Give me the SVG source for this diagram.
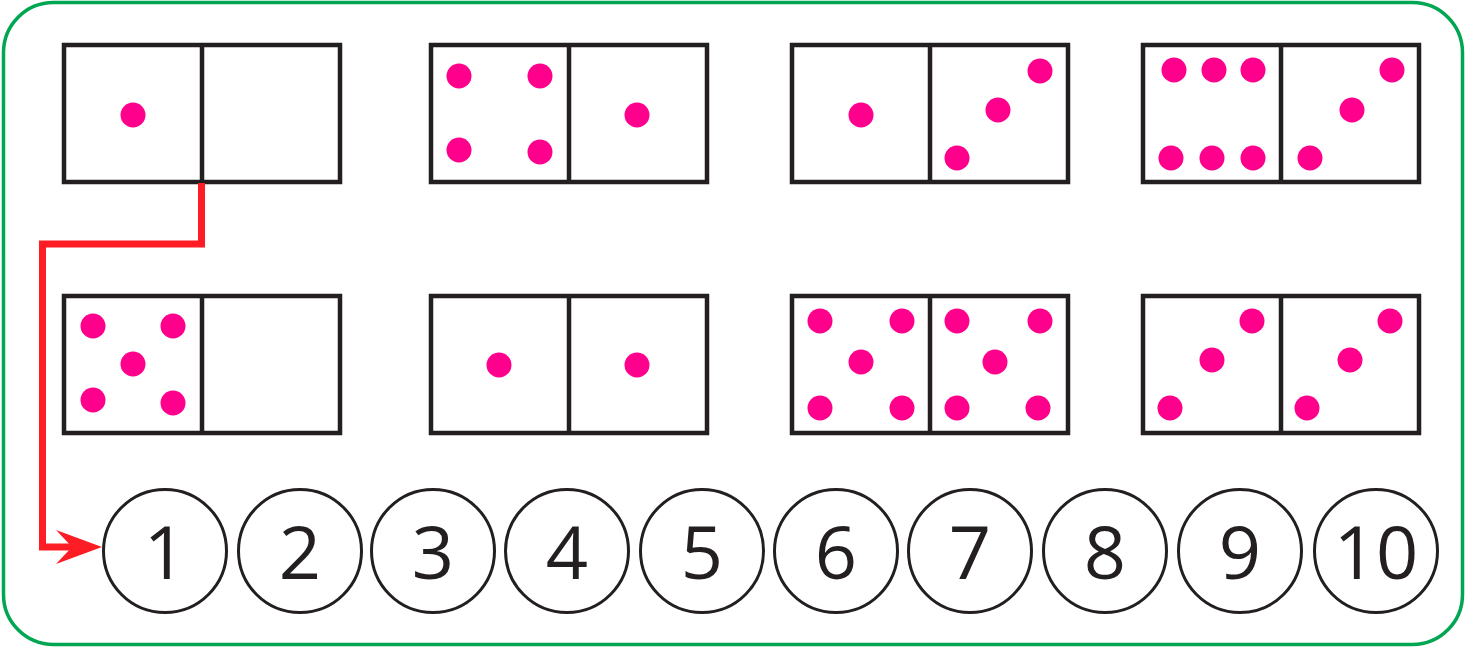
<svg xmlns="http://www.w3.org/2000/svg" width="1467" height="649" viewBox="0 0 1467 649">
<style>
.frame{fill:#fff;stroke:#00a651;stroke-width:3.5}
.dom{fill:none;stroke:#231f20;stroke-width:4.5}
.dot{fill:#ff008c}
.num circle{fill:#fff;stroke:#231f20;stroke-width:3}
.num text{font-family:"Open Sans","Noto Sans","Liberation Sans",sans-serif;font-size:74px;fill:#231f20;text-anchor:middle}
.conn{fill:none;stroke:#ff1d25;stroke-width:7;stroke-linejoin:miter}
</style>
<defs>
<g id="tile"><rect class="dom" x="0" y="0" width="276" height="137"/><line class="dom" x1="138" y1="0" x2="138" y2="137"/></g>
</defs>
<rect class="frame" x="3.5" y="2.5" width="1459" height="642" rx="50" ry="50"/>

<g id="domino-1-1"><use href="#tile" x="64" y="45"/><circle class="dot" cx="133" cy="115" r="12.5"/></g>
<g id="domino-1-2"><use href="#tile" x="431" y="45"/>
<circle class="dot" cx="459" cy="76" r="12.5"/><circle class="dot" cx="540" cy="76" r="12.5"/><circle class="dot" cx="459" cy="150" r="12.5"/><circle class="dot" cx="540" cy="152" r="12.5"/>
<circle class="dot" cx="637" cy="115" r="12.5"/></g>
<g id="domino-1-3"><use href="#tile" x="792" y="45"/>
<circle class="dot" cx="861" cy="115" r="12.5"/>
<circle class="dot" cx="1040" cy="71" r="12.5"/><circle class="dot" cx="998" cy="110" r="12.5"/><circle class="dot" cx="957" cy="158" r="12.5"/></g>
<g id="domino-1-4"><use href="#tile" x="1143" y="45"/>
<circle class="dot" cx="1174" cy="70" r="12.5"/><circle class="dot" cx="1214" cy="70" r="12.5"/><circle class="dot" cx="1253" cy="70" r="12.5"/>
<circle class="dot" cx="1171" cy="158" r="12.5"/><circle class="dot" cx="1212" cy="158" r="12.5"/><circle class="dot" cx="1253" cy="158" r="12.5"/>
<circle class="dot" cx="1392" cy="70" r="12.5"/><circle class="dot" cx="1352" cy="110" r="12.5"/><circle class="dot" cx="1310" cy="158" r="12.5"/></g>

<g id="domino-2-1"><use href="#tile" x="64" y="296"/>
<circle class="dot" cx="93" cy="326" r="12.5"/><circle class="dot" cx="173" cy="326" r="12.5"/><circle class="dot" cx="133" cy="364" r="12.5"/><circle class="dot" cx="93" cy="400" r="12.5"/><circle class="dot" cx="173" cy="403" r="12.5"/></g>
<g id="domino-2-2"><use href="#tile" x="431" y="296"/>
<circle class="dot" cx="499" cy="365" r="12.5"/><circle class="dot" cx="637" cy="365" r="12.5"/></g>
<g id="domino-2-3"><use href="#tile" x="792" y="296"/>
<circle class="dot" cx="820" cy="321" r="12.5"/><circle class="dot" cx="902" cy="321" r="12.5"/><circle class="dot" cx="861" cy="362" r="12.5"/><circle class="dot" cx="820" cy="408" r="12.5"/><circle class="dot" cx="902" cy="408" r="12.5"/>
<circle class="dot" cx="957" cy="321" r="12.5"/><circle class="dot" cx="1040" cy="321" r="12.5"/><circle class="dot" cx="995" cy="362" r="12.5"/><circle class="dot" cx="957" cy="408" r="12.5"/><circle class="dot" cx="1038" cy="408" r="12.5"/></g>
<g id="domino-2-4"><use href="#tile" x="1143" y="296"/>
<circle class="dot" cx="1252" cy="321" r="12.5"/><circle class="dot" cx="1212" cy="360" r="12.5"/><circle class="dot" cx="1170" cy="408" r="12.5"/>
<circle class="dot" cx="1390" cy="321" r="12.5"/><circle class="dot" cx="1350" cy="360" r="12.5"/><circle class="dot" cx="1307" cy="408" r="12.5"/></g>

<g id="connectors">
<path class="conn" d="M201.5,183 V244 H42.5 V547 H80"/>
<polygon points="56,530 102,547 56,564 72,547" fill="#ff1d25"/>
</g>

<g id="n1" class="num"><circle cx="165" cy="551" r="61.5"/><text x="165" y="579">1</text></g>
<g id="n2" class="num"><circle cx="300" cy="551" r="61.5"/><text x="300" y="579">2</text></g>
<g id="n3" class="num"><circle cx="433" cy="551" r="61.5"/><text x="433" y="579">3</text></g>
<g id="n4" class="num"><circle cx="567" cy="551" r="61.5"/><text x="567" y="579">4</text></g>
<g id="n5" class="num"><circle cx="702" cy="551" r="61.5"/><text x="702" y="579">5</text></g>
<g id="n6" class="num"><circle cx="836" cy="551" r="61.5"/><text x="836" y="579">6</text></g>
<g id="n7" class="num"><circle cx="970" cy="551" r="61.5"/><text x="970" y="579">7</text></g>
<g id="n8" class="num"><circle cx="1105" cy="551" r="61.5"/><text x="1105" y="579">8</text></g>
<g id="n9" class="num"><circle cx="1240" cy="551" r="61.5"/><text x="1240" y="579">9</text></g>
<g id="n10" class="num"><circle cx="1376" cy="551" r="61.5"/><text x="1376" y="579">10</text></g>
</svg>
